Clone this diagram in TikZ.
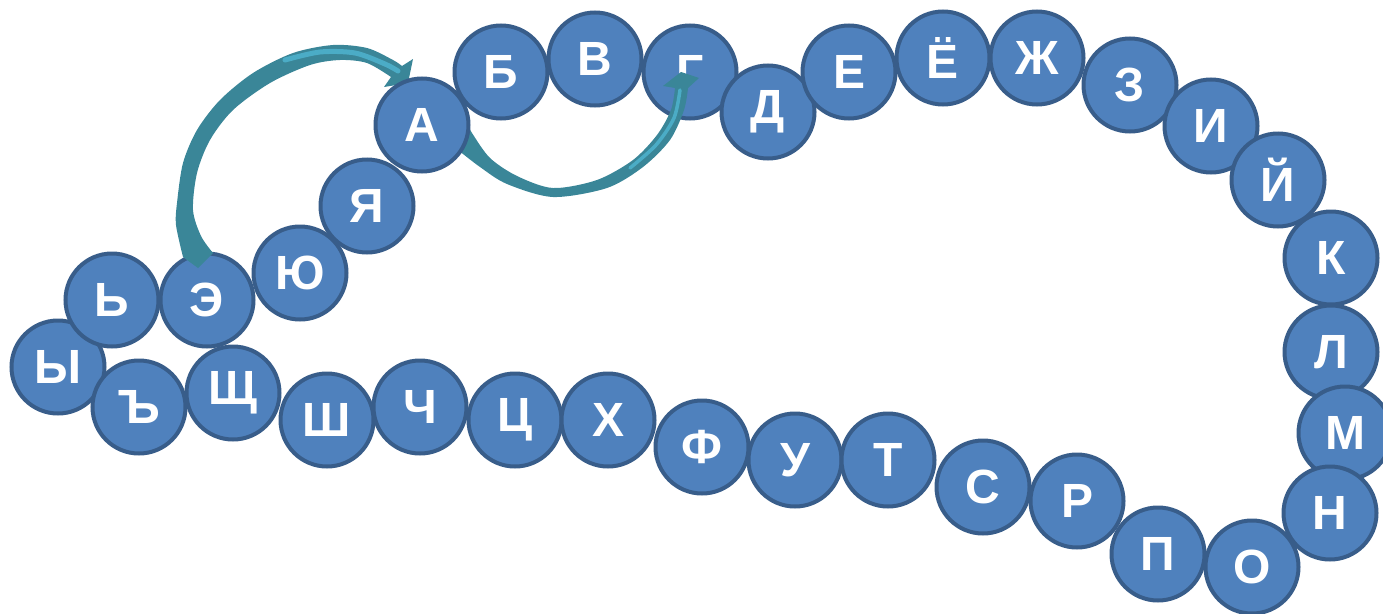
\documentclass[tikz,border=0pt]{standalone}
\usepackage{fontspec}
\setmainfont{Liberation Sans}
\begin{document}
\begin{tikzpicture}[x=1pt,y=-1pt,
  ball/.style={circle,draw=ballborder,fill=ballfill,line width=4pt,minimum size=93pt,inner sep=0pt,
    text=white,font=\fontsize{48}{48}\selectfont\bfseries},
  arrowband/.style={fill=arrowteal},
  arrowlight/.style={draw=arrowlightc,line width=5pt,line cap=round}]
\definecolor{ballfill}{HTML}{4F81BD}
\definecolor{ballborder}{HTML}{385D8A}
\definecolor{arrowteal}{HTML}{3A8698}
\definecolor{arrowlightc}{HTML}{4BACC6}
\useasboundingbox (0,0) rectangle (1383,613);
\clip (0,0) rectangle (1383,613);
% bottom chain
\node[ball] (yi) at (58,367) {Ы};
\node[ball] (hard) at (139,407) {Ъ};
\node[ball] (shch) at (233,393) {Щ};
\node[ball] (sh) at (327,420) {Ш};
\node[ball] (ch) at (420,407) {Ч};
\node[ball] (ts) at (515,420) {Ц};
\node[ball] (kh) at (608,420) {Х};
\node[ball] (f) at (702,447) {Ф};
\node[ball] (u) at (795,460) {У};
\node[ball] (t) at (888,460) {Т};
\node[ball] (s) at (983,487) {С};
\node[ball] (r) at (1077,501) {Р};
\node[ball] (p) at (1158,554) {П};
\node[ball] (o) at (1252,567) {О};
% left rising chain
\node[ball] (soft) at (112,300) {Ь};
\node[ball] (e2) at (207,300) {Э};
\node[ball] (yu) at (300,273) {Ю};
\node[ball] (ya) at (367,206) {Я};
% top and right chain
\node[ball] (b) at (501,72) {Б};
\node[ball] (v) at (595,59) {В};
\node[ball] (g) at (690,72) {Г};
\node[ball] (d) at (768,112) {Д};
\node[ball] (e) at (849,72) {Е};
\node[ball] (yo) at (943,58) {Ё};
\node[ball] (zh) at (1037,58) {Ж};
\node[ball] (z) at (1130,85) {З};
\node[ball] (i) at (1211,126) {И};
\node[ball] (ik) at (1278,180) {Й};
\node[ball] (k) at (1331,258) {К};
\node[ball] (l) at (1331,352) {Л};
\node[ball] (m) at (1345,433) {М};
\node[ball] (n) at (1330,513) {Н};
% arrow 1: from Э to А
\fill[arrowband] (183,257) -- plot[smooth] coordinates {(183,257) (176,225) (177,203) (183,163) (197,130) (220,100) (253,73) (293,53) (333,45) (367,48) (393,60) (402,66)}
  -- (413,59) -- (408,83) -- (384,87)
  -- plot[smooth] coordinates {(391,77) (367,63) (340,60) (310,65) (270,83) (233,110) (210,140) (197,173) (193,210) (201,236) (213,253)}
  -- (198,268) -- cycle;
\draw[arrowlight] plot[smooth] coordinates {(285,60) (320,52) (355,53) (385,64) (398,71)};
% arrow 2: from А to Г
\fill[arrowband] (458,150) -- plot[smooth] coordinates {(458,150) (480,167) (507,184) (553,197) (607,188) (643,167) (670,140) (684,110) (688,88)}
  -- (699,78) -- (681,72) -- (663,86)
  -- plot[smooth] coordinates {(675,88) (671,110) (657,135) (633,160) (597,180) (553,188) (517,176) (490,158) (472,133) (465,120)}
  -- cycle;
\draw[arrowlight,line width=3.5pt] plot[smooth] coordinates {(630,168) (656,145) (674,118) (680,90)};
% А on top
\node[ball] (a) at (422,125) {А};
\end{tikzpicture}
\end{document}
